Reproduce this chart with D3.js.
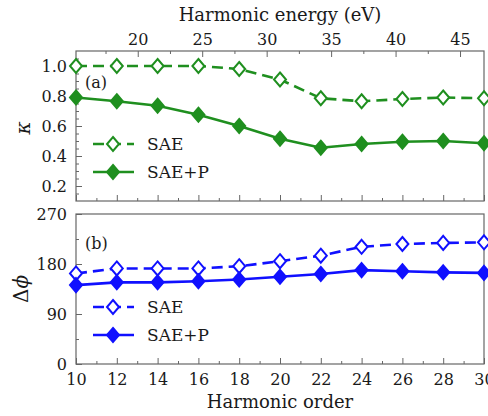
<!DOCTYPE html>
<html lang="en">
<head>
  <meta charset="utf-8">
  <title>Harmonic order chart</title>
  <script src="https://d3js.org/d3.v7.min.js"></script>
  <style>
    body { margin: 0; background: #fff; }
  </style>
</head>
<body>
<script>
// harmonic orders (x values)
var orders = [10, 12, 14, 16, 18, 20, 22, 24, 26, 28, 30];

// panel (a): kappa
var kappaSAE  = [1.0, 1.0, 1.0, 1.0, 0.98, 0.91, 0.785, 0.765, 0.78, 0.79, 0.785];
var kappaSAEP = [0.79, 0.765, 0.735, 0.675, 0.60, 0.515, 0.455, 0.48, 0.495, 0.50, 0.485];

// panel (b): delta phi (degrees)
var phiSAE  = [163, 172, 172, 172, 176, 185, 195, 211, 216, 218, 219];
var phiSAEP = [142, 147, 147, 149, 152, 157, 162, 169, 167, 165, 164];

var kappaTicks = [0.2, 0.4, 0.6, 0.8, 1.0];
var phiTicks = [0, 90, 180, 270];
var energyTicks = [20, 25, 30, 35, 40, 45];

var W = 488, H = 416;
var left = 76, right = 484;
var green = "#1f8f1f", blue = "#1010ff", frame = "#666";
var serif = "DejaVu Serif";

var svg = d3.select("body").append("svg")
  .attr("width", W).attr("height", H)
  .attr("font-family", serif);

var x = d3.scaleLinear().domain([10, 30]).range([left, right]);
var xE = d3.scaleLinear().domain([15.21, 46.86]).range([left, right]);

var yA = d3.scaleLinear().domain([0.1, 1.1]).range([201, 51]);
var yB = d3.scaleLinear().domain([0, 270]).range([364, 214]);

function styleAxis(g) {
  g.attr("font-family", serif);
  g.select(".domain").remove();
  g.selectAll("line").attr("stroke", frame).attr("stroke-width", 1);
  g.selectAll("text").attr("font-family", serif).attr("font-size", 16).attr("fill", "#1a1a1a");
}

function panel(y, top, bottom, yTicks, yMinor, fmt, showXLabels) {
  // frame
  svg.append("rect")
    .attr("x", left).attr("y", top)
    .attr("width", right - left).attr("height", bottom - top)
    .attr("fill", "none").attr("stroke", frame).attr("stroke-width", 1.2);

  // left ticks (inward)
  svg.append("g").attr("transform", "translate(" + left + ",0)")
    .call(d3.axisLeft(y).tickValues(yMinor).tickSize(-3).tickFormat(""))
    .call(styleAxis);
  svg.append("g").attr("transform", "translate(" + left + ",0)")
    .call(d3.axisLeft(y).tickValues(yTicks).tickSize(-6).tickPadding(9).tickFormat(fmt))
    .call(styleAxis);

  // bottom ticks (inward)
  var minorX = d3.range(11, 30, 2);
  svg.append("g").attr("transform", "translate(0," + bottom + ")")
    .call(d3.axisBottom(x).tickValues(minorX).tickSize(-3).tickFormat(""))
    .call(styleAxis);
  svg.append("g").attr("transform", "translate(0," + bottom + ")")
    .call(d3.axisBottom(x).tickValues(orders).tickSize(-6).tickPadding(10)
      .tickFormat(showXLabels ? d3.format("d") : ""))
    .call(styleAxis);
}

panel(yA, 51, 201, kappaTicks, d3.range(0.15, 1.1, 0.05).map(function(v){ return +v.toFixed(2); }), d3.format(".1f"), false);
panel(yB, 214, 364, phiTicks, [45, 135, 225], d3.format("d"), true);

// top energy axis
svg.append("g").attr("transform", "translate(0,51)")
  .call(d3.axisTop(xE).tickValues([17.5, 22.5, 27.5, 32.5, 37.5, 42.5]).tickSize(-3).tickFormat(""))
  .call(styleAxis);
svg.append("g").attr("transform", "translate(0,51)")
  .call(d3.axisTop(xE).tickValues(energyTicks).tickSize(-6).tickPadding(6).tickFormat(d3.format("d")))
  .call(styleAxis);

// series
function series(y, vals, color, open) {
  var pts = orders.map(function(o, i) { return [x(o), y(vals[i])]; });
  svg.append("path")
    .attr("d", d3.line()(pts))
    .attr("fill", "none").attr("stroke", color).attr("stroke-width", 2.6)
    .attr("stroke-dasharray", open ? "11,6" : null);
  svg.append("g").selectAll("path").data(pts).enter().append("path")
    .attr("d", function(p) { return diamond(p[0], p[1]); })
    .attr("fill", open ? "#fff" : color)
    .attr("stroke", color).attr("stroke-width", 2);
}

function diamond(cx, cy) {
  var a = 6, b = 7;
  return "M" + cx + "," + (cy - b) + "L" + (cx + a) + "," + cy + "L" + cx + "," + (cy + b) + "L" + (cx - a) + "," + cy + "Z";
}

function legend(ly, color, open, label) {
  svg.append("line")
    .attr("x1", 93).attr("x2", 134).attr("y1", ly).attr("y2", ly)
    .attr("stroke", color).attr("stroke-width", 2.6)
    .attr("stroke-dasharray", open ? "11,6" : null);
  svg.append("path").attr("d", diamond(113, ly))
    .attr("fill", open ? "#fff" : color).attr("stroke", color).attr("stroke-width", 2);
  svg.append("text").attr("x", 147).attr("y", ly).attr("dy", "0.35em")
    .attr("font-size", 17).attr("fill", "#1a1a1a").text(label);
}

series(yA, kappaSAE, green, true);
series(yA, kappaSAEP, green, false);
series(yB, phiSAE, blue, true);
series(yB, phiSAEP, blue, false);

legend(144, green, true, "SAE");
legend(172, green, false, "SAE+P");
legend(307, blue, true, "SAE");
legend(335, blue, false, "SAE+P");

// panel labels
svg.append("text").attr("x", 85).attr("y", 82).attr("dy", "0.35em")
  .attr("font-size", 16).attr("fill", "#1a1a1a").text("(a)");
svg.append("text").attr("x", 85).attr("y", 243).attr("dy", "0.35em")
  .attr("font-size", 16).attr("fill", "#1a1a1a").text("(b)");

// axis titles
svg.append("text").attr("x", 280).attr("y", 15).attr("dy", "0.35em")
  .attr("text-anchor", "middle").attr("font-size", 18).attr("fill", "#1a1a1a").text("Harmonic energy (eV)");
svg.append("text").attr("x", 280).attr("y", 402).attr("dy", "0.35em")
  .attr("text-anchor", "middle").attr("font-size", 18).attr("fill", "#1a1a1a").text("Harmonic order");
svg.append("text").attr("transform", "translate(23,128) rotate(-90)")
  .attr("dy", "0.35em").attr("text-anchor", "middle")
  .attr("font-size", 20).attr("font-style", "italic").attr("fill", "#1a1a1a").text("κ");
svg.append("text").attr("transform", "translate(21,289) rotate(-90)")
  .attr("dy", "0.35em").attr("text-anchor", "middle")
  .attr("font-size", 20).attr("fill", "#1a1a1a").html("Δ<tspan font-style='italic'>ϕ</tspan>");
</script>
</body>
</html>
